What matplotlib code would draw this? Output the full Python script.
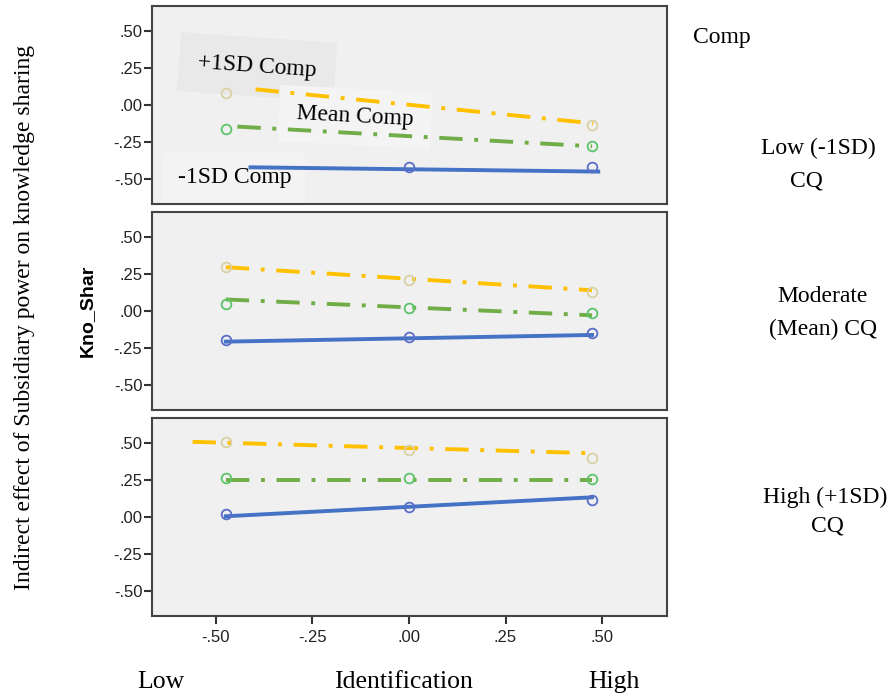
import numpy as np
import matplotlib.pyplot as plt

# identification levels where the group means sit
x_pts = [-0.474, 0.0, 0.474]

# group means per CQ panel (low, moderate, high); None = not shown
plus_means = [[0.079, None, -0.137], [0.296, 0.211, 0.131], [0.510, 0.454, 0.396]]
mean_means = [[-0.164, None, -0.277], [0.045, 0.022, -0.011], [0.265, 0.261, 0.256]]
minus_means = [[None, -0.417, -0.417], [-0.193, -0.173, -0.151], [0.018, 0.065, 0.117]]

# fit line end points per panel: (x0, x1, y0, y1)
plus_fit = [(-0.397, 0.477, 0.106, -0.124), (-0.474, 0.474, 0.296, 0.140), (-0.56, 0.486, 0.508, 0.430)]
mean_fit = [(-0.444, 0.474, -0.146, -0.279), (-0.474, 0.474, 0.078, -0.029), (-0.474, 0.474, 0.250, 0.250)]
minus_fit = [(-0.410, 0.490, -0.421, -0.450), (-0.474, 0.474, -0.207, -0.162), (-0.474, 0.474, 0.005, 0.133)]

yticks = [0.5, 0.25, 0.0, -0.25, -0.5]
ytick_labels = [".50", ".25", ".00", "-.25", "-.50"]
xticks = [-0.5, -0.25, 0.0, 0.25, 0.5]
xtick_labels = ["-.50", "-.25", ".00", ".25", ".50"]

panel_labels = [("Low (-1SD)", "CQ"), ("Moderate", "(Mean) CQ"), ("High (+1SD)", "CQ")]

series = [
    (plus_means, plus_fit, "#ffc000", "#d9d0a6", (0, (6, 3, 1, 3))),
    (mean_means, mean_fit, "#70ad47", "#5cc46a", (0, (6, 3, 1, 3))),
    (minus_means, minus_fit, "#4472c4", "#5a6ec8", "solid"),
]

serif = "Liberation Serif"
sans = "Liberation Sans"

fig = plt.figure(figsize=(8.94, 6.98), dpi=100)
left, width, height = 152 / 894, 515 / 894, 198 / 698
tops = [6, 212, 418]
axes = []
for i, top in enumerate(tops):
    ax = fig.add_axes([left, 1 - (top + 198) / 698, width, height])
    ax.set_facecolor("#f0f0f0")
    ax.set_xlim(-0.665, 0.668)
    ax.set_ylim(-0.669, 0.669)
    for s in ax.spines.values():
        s.set_color("#444444")
        s.set_linewidth(1.5)
    ax.set_yticks(yticks)
    ax.set_yticklabels(ytick_labels, fontfamily=sans, fontsize=12, color="#222222")
    ax.tick_params(axis="y", length=6, width=1.5, color="#333333", pad=1)
    if i == 2:
        ax.set_xticks(xticks)
        ax.set_xticklabels(xtick_labels, fontfamily=sans, fontsize=12, color="#222222")
        ax.tick_params(axis="x", length=6, width=1.5, color="#333333", pad=4)
    else:
        ax.set_xticks([])

    for means, fits, lc, mc, ls in series:
        x0, x1, y0, y1 = fits[i]
        ax.plot([x0, x1], [y0, y1], color=lc, lw=2.8, ls=ls, zorder=3)
        xs = [x for x, v in zip(x_pts, means[i]) if v is not None]
        vs = [v for v in means[i] if v is not None]
        ax.plot(xs, vs, "o", ms=7, mfc="none", mec=mc, mew=1.3, zorder=4)
    axes.append(ax)

# series labels inside the top panel, on light boxes under the lines
top_ax = axes[0]
top_ax.text(-0.393, 0.257, "+1SD Comp", fontfamily=serif, fontsize=17, rotation=-4,
            ha="center", va="center", zorder=2,
            bbox=dict(boxstyle="square,pad=0.8", fc="#e9e9e9", ec="none"))
top_ax.text(-0.139, -0.081, "Mean Comp", fontfamily=serif, fontsize=17, rotation=-3,
            ha="center", va="center", zorder=2,
            bbox=dict(boxstyle="square,pad=0.75", fc="#f4f4f4", ec="none"))
top_ax.text(-0.452, -0.493, "-1SD Comp", fontfamily=serif, fontsize=17,
            ha="center", va="center", zorder=2,
            bbox=dict(boxstyle="square,pad=0.6", fc="#f3f3f3", ec="none"))

fig.text(693 / 894, 1 - 38 / 698, "Comp", fontfamily=serif, fontsize=17, ha="left", va="center")
label_pos = [(818, 148, 806, 181), (823, 297, 823, 329), (825, 497, 827, 526)]
for (a, b), (xa, ya, xb, yb) in zip(panel_labels, label_pos):
    fig.text(xa / 894, 1 - ya / 698, a, fontfamily=serif, fontsize=17, ha="center", va="center")
    fig.text(xb / 894, 1 - yb / 698, b, fontfamily=serif, fontsize=17, ha="center", va="center")

fig.text(25 / 894, 1 - 317 / 698, "Indirect effect of Subsidiary power on knowledge sharing",
         fontfamily=serif, fontsize=17, rotation=90, ha="center", va="center")
fig.text(87 / 894, 1 - 311 / 698, "Kno_Shar", fontfamily=sans, fontsize=14,
         fontweight="bold", rotation=90, ha="center", va="center")

for xp, s in [(161, "Low"), (403, "Identification"), (614, "High")]:
    fig.text(xp / 894, 1 - 682 / 698, s, fontfamily=serif, fontsize=18.5, ha="center", va="center")

fig.savefig("out.png", dpi=100)
